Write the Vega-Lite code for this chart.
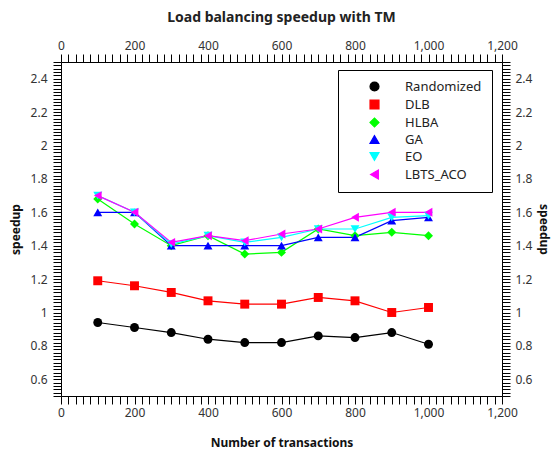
{
  "$schema": "https://vega.github.io/schema/vega-lite/v6.json",
  "width": 441,
  "height": 334,
  "autosize": {"type": "none"},
  "padding": {"left": 61, "top": 62, "right": 52, "bottom": 57},
  "title": {"text": "Load balancing speedup with TM", "fontSize": 14, "font": "Noto Sans", "fontWeight": "bold", "color": "#222", "offset": 14},
  "config": {
    "view": {"stroke": null},
    "axis": {"domainColor": "#000", "tickColor": "#000", "labelColor": "#333", "labelFont": "Noto Sans", "labelFontSize": 12, "titleFont": "Noto Sans", "titleFontSize": 12, "titleFontWeight": "bold", "titleColor": "#111", "grid": false, "domainWidth": 1, "tickWidth": 1, "labelOverlap": false, "labelFlush": false, "labelBound": false},
    "legend": {"labelFont": "Noto Sans", "labelFontSize": 13, "labelColor": "#222", "strokeColor": "#000", "fillColor": "#fff", "padding": 10, "rowPadding": 3, "symbolSize": 80, "symbolOffset": 20, "labelOffset": 24, "symbolStrokeWidth": 1.2}
  },
  "datasets": {
    "d": [
      {"n": 100, "speedup": 0.94, "series": "Randomized"},
      {"n": 200, "speedup": 0.91, "series": "Randomized"},
      {"n": 300, "speedup": 0.88, "series": "Randomized"},
      {"n": 400, "speedup": 0.84, "series": "Randomized"},
      {"n": 500, "speedup": 0.82, "series": "Randomized"},
      {"n": 600, "speedup": 0.82, "series": "Randomized"},
      {"n": 700, "speedup": 0.86, "series": "Randomized"},
      {"n": 800, "speedup": 0.85, "series": "Randomized"},
      {"n": 900, "speedup": 0.88, "series": "Randomized"},
      {"n": 1000, "speedup": 0.81, "series": "Randomized"},
      {"n": 100, "speedup": 1.19, "series": "DLB"},
      {"n": 200, "speedup": 1.16, "series": "DLB"},
      {"n": 300, "speedup": 1.12, "series": "DLB"},
      {"n": 400, "speedup": 1.07, "series": "DLB"},
      {"n": 500, "speedup": 1.05, "series": "DLB"},
      {"n": 600, "speedup": 1.05, "series": "DLB"},
      {"n": 700, "speedup": 1.09, "series": "DLB"},
      {"n": 800, "speedup": 1.07, "series": "DLB"},
      {"n": 900, "speedup": 1.0, "series": "DLB"},
      {"n": 1000, "speedup": 1.03, "series": "DLB"},
      {"n": 100, "speedup": 1.68, "series": "HLBA"},
      {"n": 200, "speedup": 1.53, "series": "HLBA"},
      {"n": 300, "speedup": 1.4, "series": "HLBA"},
      {"n": 400, "speedup": 1.46, "series": "HLBA"},
      {"n": 500, "speedup": 1.35, "series": "HLBA"},
      {"n": 600, "speedup": 1.36, "series": "HLBA"},
      {"n": 700, "speedup": 1.5, "series": "HLBA"},
      {"n": 800, "speedup": 1.46, "series": "HLBA"},
      {"n": 900, "speedup": 1.48, "series": "HLBA"},
      {"n": 1000, "speedup": 1.46, "series": "HLBA"},
      {"n": 100, "speedup": 1.6, "series": "GA"},
      {"n": 200, "speedup": 1.6, "series": "GA"},
      {"n": 300, "speedup": 1.4, "series": "GA"},
      {"n": 400, "speedup": 1.4, "series": "GA"},
      {"n": 500, "speedup": 1.4, "series": "GA"},
      {"n": 600, "speedup": 1.4, "series": "GA"},
      {"n": 700, "speedup": 1.45, "series": "GA"},
      {"n": 800, "speedup": 1.45, "series": "GA"},
      {"n": 900, "speedup": 1.55, "series": "GA"},
      {"n": 1000, "speedup": 1.57, "series": "GA"},
      {"n": 100, "speedup": 1.7, "series": "EO"},
      {"n": 200, "speedup": 1.6, "series": "EO"},
      {"n": 300, "speedup": 1.41, "series": "EO"},
      {"n": 400, "speedup": 1.46, "series": "EO"},
      {"n": 500, "speedup": 1.42, "series": "EO"},
      {"n": 600, "speedup": 1.45, "series": "EO"},
      {"n": 700, "speedup": 1.5, "series": "EO"},
      {"n": 800, "speedup": 1.5, "series": "EO"},
      {"n": 900, "speedup": 1.57, "series": "EO"},
      {"n": 1000, "speedup": 1.58, "series": "EO"},
      {"n": 100, "speedup": 1.7, "series": "LBTS_ACO"},
      {"n": 200, "speedup": 1.6, "series": "LBTS_ACO"},
      {"n": 300, "speedup": 1.42, "series": "LBTS_ACO"},
      {"n": 400, "speedup": 1.46, "series": "LBTS_ACO"},
      {"n": 500, "speedup": 1.43, "series": "LBTS_ACO"},
      {"n": 600, "speedup": 1.47, "series": "LBTS_ACO"},
      {"n": 700, "speedup": 1.5, "series": "LBTS_ACO"},
      {"n": 800, "speedup": 1.57, "series": "LBTS_ACO"},
      {"n": 900, "speedup": 1.6, "series": "LBTS_ACO"},
      {"n": 1000, "speedup": 1.6, "series": "LBTS_ACO"}
    ]
  },
  "data": {"name": "d"},
  "resolve": {"axis": {"x": "independent", "y": "independent"}},
  "layer": [
    {
      "mark": {"type": "line", "strokeWidth": 1.2},
      "encoding": {
        "x": {"field": "n", "type": "quantitative", "scale": {"domain": [0, 1200], "nice": false}, "axis": {"orient": "bottom", "values": [0,20,40,60,80,100,120,140,160,180,200,220,240,260,280,300,320,340,360,380,400,420,440,460,480,500,520,540,560,580,600,620,640,660,680,700,720,740,760,780,800,820,840,860,880,900,920,940,960,980,1000,1020,1040,1060,1080,1100,1120,1140,1160,1180,1200], "labelExpr": "abs(datum.value/200 - round(datum.value/200)) < 0.001 ? format(datum.value, ',') : ''", "title": "Number of transactions", "tickSize": 8, "labelPadding": 3, "titlePadding": 19, "encode": {"ticks": {"y2": {"value": {"expr": "abs(datum.value/200 - round(datum.value/200)) < 0.001 ? 8 : 5"}}}}}},
        "y": {"field": "speedup", "type": "quantitative", "scale": {"domain": [0.5, 2.5], "nice": false, "zero": false}, "axis": {"orient": "left", "values": [0.5,0.52,0.54,0.56,0.58,0.6,0.62,0.64,0.66,0.68,0.7,0.72,0.74,0.76,0.78,0.8,0.82,0.84,0.86,0.88,0.9,0.92,0.94,0.96,0.98,1,1.02,1.04,1.06,1.08,1.1,1.12,1.14,1.16,1.18,1.2,1.22,1.24,1.26,1.28,1.3,1.32,1.34,1.36,1.38,1.4,1.42,1.44,1.46,1.48,1.5,1.52,1.54,1.56,1.58,1.6,1.62,1.64,1.66,1.68,1.7,1.72,1.74,1.76,1.78,1.8,1.82,1.84,1.86,1.88,1.9,1.92,1.94,1.96,1.98,2,2.02,2.04,2.06,2.08,2.1,2.12,2.14,2.16,2.18,2.2,2.22,2.24,2.26,2.28,2.3,2.32,2.34,2.36,2.38,2.4,2.42,2.44,2.46,2.48,2.5], "labelExpr": "abs(datum.value*5 - round(datum.value*5)) < 0.001 ? format(datum.value, '.1~f') : ''", "title": "speedup", "tickSize": 8, "labelPadding": 6, "titlePadding": 8, "encode": {"ticks": {"x2": {"value": {"expr": "abs(datum.value*5 - round(datum.value*5)) < 0.001 ? -8 : 5"}}}}}},
        "color": {"field": "series", "type": "nominal", "scale": {"domain": ["Randomized", "DLB", "HLBA", "GA", "EO", "LBTS_ACO"], "range": ["#000000", "#ff0000", "#00ff00", "#0000ff", "#00ffff", "#ff00ff"]}, "legend": {"title": null, "orient": "none", "legendX": 277, "legendY": 8}}
      }
    },
    {
      "mark": {"type": "point", "filled": true, "size": 80, "opacity": 1},
      "encoding": {
        "x": {"field": "n", "type": "quantitative", "axis": {"orient": "top", "values": [0,20,40,60,80,100,120,140,160,180,200,220,240,260,280,300,320,340,360,380,400,420,440,460,480,500,520,540,560,580,600,620,640,660,680,700,720,740,760,780,800,820,840,860,880,900,920,940,960,980,1000,1020,1040,1060,1080,1100,1120,1140,1160,1180,1200], "labelExpr": "abs(datum.value/200 - round(datum.value/200)) < 0.001 ? format(datum.value, ',') : ''", "title": null, "tickSize": 8, "labelPadding": 2, "encode": {"ticks": {"y2": {"value": {"expr": "abs(datum.value/200 - round(datum.value/200)) < 0.001 ? -8 : -5"}}}}}},
        "y": {"field": "speedup", "type": "quantitative", "axis": {"orient": "right", "values": [0.5,0.52,0.54,0.56,0.58,0.6,0.62,0.64,0.66,0.68,0.7,0.72,0.74,0.76,0.78,0.8,0.82,0.84,0.86,0.88,0.9,0.92,0.94,0.96,0.98,1,1.02,1.04,1.06,1.08,1.1,1.12,1.14,1.16,1.18,1.2,1.22,1.24,1.26,1.28,1.3,1.32,1.34,1.36,1.38,1.4,1.42,1.44,1.46,1.48,1.5,1.52,1.54,1.56,1.58,1.6,1.62,1.64,1.66,1.68,1.7,1.72,1.74,1.76,1.78,1.8,1.82,1.84,1.86,1.88,1.9,1.92,1.94,1.96,1.98,2,2.02,2.04,2.06,2.08,2.1,2.12,2.14,2.16,2.18,2.2,2.22,2.24,2.26,2.28,2.3,2.32,2.34,2.36,2.38,2.4,2.42,2.44,2.46,2.48,2.5], "labelExpr": "abs(datum.value*5 - round(datum.value*5)) < 0.001 ? format(datum.value, '.1~f') : ''", "title": "speedup", "tickSize": 8, "labelPadding": 5, "titlePadding": 5, "encode": {"ticks": {"x2": {"value": {"expr": "abs(datum.value*5 - round(datum.value*5)) < 0.001 ? 8 : -5"}}}}}},
        "color": {"field": "series", "type": "nominal", "legend": {"title": null, "orient": "none", "legendX": 277, "legendY": 8}},
        "shape": {"field": "series", "type": "nominal", "scale": {"domain": ["Randomized", "DLB", "HLBA", "GA", "EO", "LBTS_ACO"], "range": ["circle", "square", "diamond", "triangle-up", "triangle-down", "triangle-left"]}, "legend": {"title": null, "orient": "none", "legendX": 277, "legendY": 8}}
      }
    }
  ]
}
